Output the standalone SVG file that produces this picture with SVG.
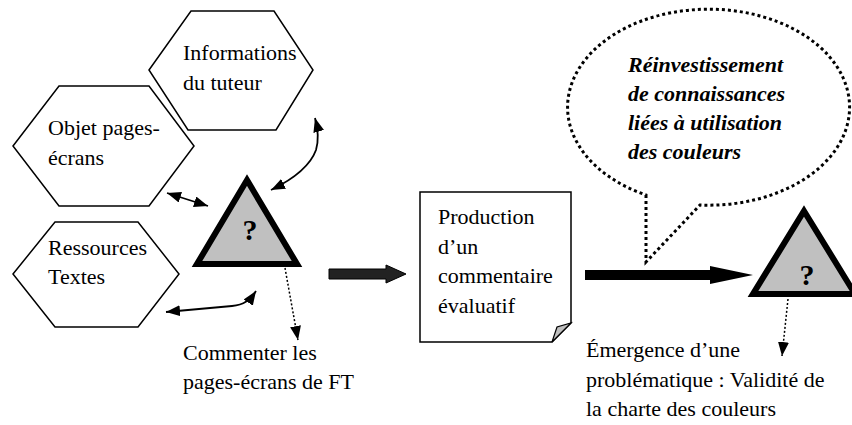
<svg xmlns="http://www.w3.org/2000/svg" width="852" height="425" viewBox="0 0 852 425">
<style>
.hex{fill:#fff;stroke:#000;stroke-width:1.5}
.t{font-family:"Liberation Serif","Times New Roman",serif;font-size:22px;fill:#000}
.bi{font-family:"Liberation Serif","Times New Roman",serif;font-size:22px;font-weight:bold;font-style:italic;fill:#000}
.q{font-family:"Liberation Serif","Times New Roman",serif;font-size:30px;font-weight:bold;fill:#000;text-anchor:middle}
.tri{fill:#c0c0c0;stroke:#000;stroke-width:6;stroke-linejoin:miter}
.ln{fill:none;stroke:#000;stroke-width:1.8}
.dot{fill:none;stroke:#000;stroke-width:1.5;stroke-dasharray:2 2}
</style>
<defs>
<marker id="ah" viewBox="0 0 14 11" refX="14" refY="5.5" markerWidth="14" markerHeight="11" markerUnits="userSpaceOnUse" orient="auto-start-reverse">
<path d="M0,0 L14,5.5 L0,11 Z" fill="#000"/>
</marker>
</defs>
<rect width="852" height="425" fill="#fff"/>

<g id="n-informations">
<polygon class="hex" points="149,70 191,11 274,11 313,70 276,130 188,130"/>
<text class="t" x="183" y="60">Informations</text>
<text class="t" x="183" y="90">du tuteur</text>
</g>

<g id="n-objet">
<polygon class="hex" points="13,146 59,86 149,86 194,146 149,206 59,206"/>
<text class="t" x="48" y="135">Objet pages-</text>
<text class="t" x="48" y="165">écrans</text>
</g>

<g id="n-ressources">
<polygon class="hex" points="13,274 55,222 138,222 179,274 138,327 55,327"/>
<text class="t" x="48" y="255">Ressources</text>
<text class="t" x="48" y="284">Textes</text>
</g>

<g id="n-triangle1">
<polygon class="tri" points="247,180 297,264 197,264"/>
<text class="q" x="250" y="240">?</text>
</g>

<g id="n-production">
<path d="M420,192 H571 V323 L552,342 H420 Z" fill="#fff" stroke="#000" stroke-width="1.5"/>
<path d="M552,342 Q555,333 557,327 Q564,325 571,323 Z" fill="#c0c0c0" stroke="#000" stroke-width="1.2"/>
<text class="t" x="438" y="224">Production</text>
<text class="t" x="438" y="254">d’un</text>
<text class="t" x="438" y="283">commentaire</text>
<text class="t" x="438" y="313">évaluatif</text>
</g>

<g id="n-bulle">
<path d="M646,195 L646,262 L700,205 A141 98 0 1 0 646,195 Z" fill="#fff" stroke="#000" stroke-width="3" stroke-dasharray="3 3"/>
<text class="bi" x="628" y="72">Réinvestissement</text>
<text class="bi" x="628" y="101">de connaissances</text>
<text class="bi" x="628" y="130">liées à utilisation</text>
<text class="bi" x="628" y="159">des couleurs</text>
</g>

<g id="n-triangle2">
<polygon class="tri" points="804,211 855,294 753,294"/>
<text class="q" x="807" y="285">?</text>
</g>

<g id="n-commenter">
<text class="t" x="183" y="360">Commenter les</text>
<text class="t" x="183" y="389">pages-écrans de FT</text>
</g>

<g id="n-emergence">
<text class="t" x="586" y="357">Émergence d’une</text>
<text class="t" x="586" y="387">problématique : Validité de</text>
<text class="t" x="586" y="416">la charte des couleurs</text>
</g>

<g id="connectors">
<line class="ln" x1="167" y1="193" x2="208" y2="206" marker-start="url(#ah)" marker-end="url(#ah)"/>
<path class="ln" d="M315,118 Q320,136 316,150 Q308,172 271,190" marker-start="url(#ah)" marker-end="url(#ah)"/>
<path class="ln" d="M166,312 L232,306 C244,305 250,300 256,291" marker-start="url(#ah)" marker-end="url(#ah)"/>
<line class="dot" x1="285" y1="268" x2="298" y2="340" marker-end="url(#ah)"/>
<line class="dot" x1="788" y1="299" x2="782" y2="356" marker-end="url(#ah)"/>
<polygon points="329,269 386,269 386,265 406,274 386,283 386,279 329,279" fill="#222" stroke="#000" stroke-width="1"/>
<polygon points="585,270 710,270 710,266 753,275 710,284 710,280 585,280" fill="#000"/>
</g>
</svg>
